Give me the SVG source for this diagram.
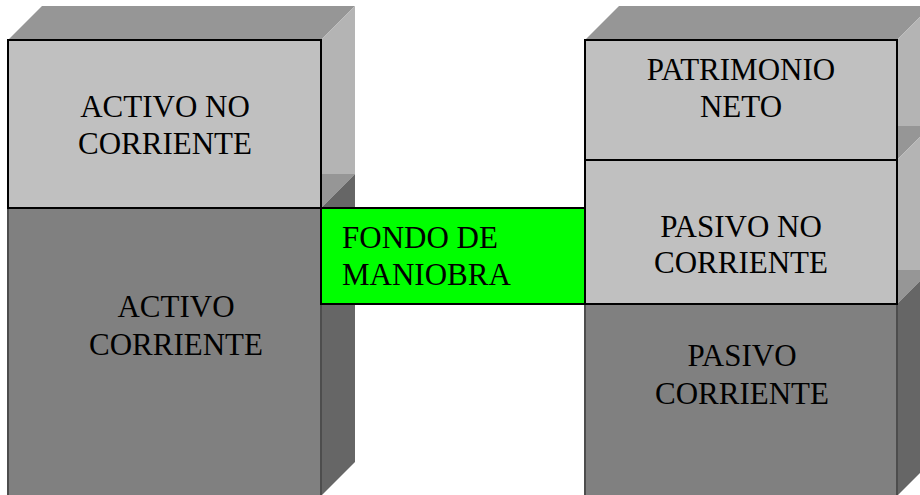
<svg xmlns="http://www.w3.org/2000/svg" width="920" height="495" viewBox="0 0 920 495">
<style>
.top{fill:#969696}
.sideL{fill:#b4b4b4}
.sideD{fill:#666666}
.frontL{fill:#c0c0c0;stroke:#000;stroke-width:2}
.frontD{fill:#808080;stroke:#4d4d4d;stroke-width:2}
.green{fill:#00ff00;stroke:#000;stroke-width:2}
text{font-family:"Liberation Serif","Times New Roman",serif;font-size:31px;fill:#000}
.c{text-anchor:middle}
</style>
<rect width="920" height="495" fill="#fff"/>
<g id="activo-corriente">
<polygon class="top" points="321,174 355,174 321,208"/>
<polygon class="sideD" points="321,208 355,174 355,462 321,496"/>
<rect class="frontD" x="8" y="208" width="313" height="292"/>
<text class="c" x="176" y="317">ACTIVO</text>
<text class="c" x="176" y="355">CORRIENTE</text>
</g>
<g id="activo-no-corriente">
<polygon class="top" points="8,40 42,6 355,6 321,40"/>
<polygon class="sideL" points="321,40 355,6 355,174 321,174"/>
<rect class="frontL" x="8" y="40" width="313" height="168"/>
<text class="c" x="165" y="117">ACTIVO NO</text>
<text class="c" x="165" y="154">CORRIENTE</text>
</g>
<g id="pasivo-corriente">
<polygon class="top" points="897,270 931,270 897,304"/>
<polygon class="sideD" points="897,304 931,270 931,462 897,496"/>
<rect class="frontD" x="585" y="304" width="312" height="196"/>
<text class="c" x="742" y="366">PASIVO</text>
<text class="c" x="742" y="404">CORRIENTE</text>
</g>
<g id="pasivo-no-corriente">
<polygon class="top" points="897,126 931,126 897,160"/>
<polygon class="sideL" points="897,160 931,126 931,270 897,270"/>
<rect class="frontL" x="585" y="160" width="312" height="144"/>
<text class="c" x="741" y="237">PASIVO NO</text>
<text class="c" x="741" y="273">CORRIENTE</text>
</g>
<g id="patrimonio-neto">
<polygon class="top" points="585,40 619,6 931,6 897,40"/>
<polygon class="sideL" points="897,40 931,6 931,126 897,126"/>
<rect class="frontL" x="585" y="40" width="312" height="120"/>
<text class="c" x="741" y="80">PATRIMONIO</text>
<text class="c" x="741" y="117">NETO</text>
</g>
<g id="fondo-de-maniobra">
<rect class="green" x="321" y="208" width="264" height="96"/>
<text x="342" y="248">FONDO DE</text>
<text x="342" y="285">MANIOBRA</text>
</g>
<g id="connectors"></g>
</svg>
